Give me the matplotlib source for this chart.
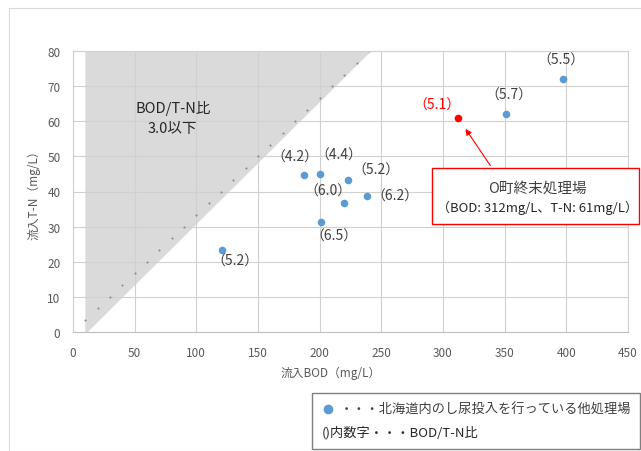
import matplotlib
matplotlib.use("Agg")
import matplotlib.pyplot as plt
from matplotlib.patches import Rectangle, Polygon

plt.rcParams['font.family'] = ['Noto Sans CJK JP', 'DejaVu Sans']

# 他処理場 (BOD, T-N, BOD/T-N比)
bod = [397, 351, 200, 187, 223, 220, 238, 201, 121]
tn = [72, 62, 45, 44.7, 43.2, 36.7, 38.8, 31.2, 23.4]
ratio = ["5.5", "5.7", "4.4", "4.2", "5.2", "6.0", "6.2", "6.5", "5.2"]

# O町終末処理場
o_bod, o_tn, o_ratio = 312, 61, "5.1"

# BOD/T-N = 3.0 の線
line_bod = [10, 20, 30, 40, 50, 60, 70, 80, 90, 100, 110, 120,
            130, 140, 150, 160, 170, 180, 190, 200, 210, 220, 230, 240]
line_tn = [3.3, 6.7, 10, 13.3, 16.7, 20, 23.3, 26.7, 30, 33.3, 36.7, 40,
           43.3, 46.7, 50, 53.3, 56.7, 60, 63.3, 66.7, 70, 73.3, 76.7, 80]

# 3.0以下の領域
shade_bod = [10, 10, 242, 12]
shade_tn = [0, 80, 80, 0]

W, H = 641, 452


def px(x, y):
    return x / W, 1 - y / H


fig = plt.figure(figsize=(6.41, 4.52), dpi=100)
ax = fig.add_axes([73 / W, 1 - 333 / H, (628 - 73) / W, (333 - 52) / H])

# chart frame
fig.patches.append(Rectangle(px(9, 452), 1, (452 - 9) / H, transform=fig.transFigure,
                             fill=False, edgecolor='#d9d9d9', lw=0.8))

ax.add_patch(Polygon(list(zip(shade_bod, shade_tn)), closed=True,
                     facecolor='#dadada', edgecolor='none', zorder=0.5))
ax.plot(line_bod, line_tn, ls='none', marker='o', ms=1.5, mew=0, color='#8a8a8a', zorder=2)

ax.scatter(bod, tn, s=30, color='#5b9bd5', zorder=3, linewidths=0)
ax.scatter([o_bod], [o_tn], s=30, color='#ff0000', zorder=3, linewidths=0)

# 比のラベル (ポイントからのずれ: px)
offsets = [(-2, 19), (3, 20), (19, 19), (-9, 18), (28, 11), (-16, 12), (28, 0), (13, -13), (13, -11)]
for x, y, r, (dx, dy) in zip(bod, tn, ratio, offsets):
    ax.annotate("（" + r + "）", (x, y), xytext=(dx, dy), textcoords='offset pixels',
                ha='center', va='center', fontsize=10, color='#404040', zorder=4)
ax.annotate("（" + o_ratio + "）", (o_bod, o_tn), xytext=(-21, 13), textcoords='offset pixels',
            ha='center', va='center', fontsize=10, color='#ff0000', zorder=4)

ax.text(81, 64, "BOD/T-N比", ha='center', va='center', fontsize=10.5, color='#262626')
ax.text(81, 58, "3.0以下", ha='center', va='center', fontsize=10.5, color='#262626')

ax.set_xlim(0, 450)
ax.set_ylim(0, 80)
ax.set_xticks(range(0, 451, 50))
ax.set_yticks(range(0, 81, 10))
ax.grid(True, color='#d0d0d0', lw=0.8, zorder=1)
ax.set_axisbelow(True)
for s in ax.spines.values():
    s.set_color('#d0d0d0')
    s.set_linewidth(0.8)
ax.spines['bottom'].set_color('#bfbfbf')
ax.tick_params(length=0, labelsize=8.5, labelcolor='#595959')
ax.tick_params(axis='x', pad=10)
ax.tick_params(axis='y', pad=9)

fig.text(*px(331, 373), "流入BOD（mg/L）", ha='center', va='center', fontsize=8.5, color='#595959')
fig.text(*px(34, 192), "流入T-N（mg/L）", ha='center', va='center', rotation=90,
         fontsize=8.5, color='#595959')

# O町終末処理場 の吹き出し
fig.patches.append(Rectangle(px(432, 225), (639 - 432) / W, (225 - 169) / H,
                             transform=fig.transFigure, facecolor='white',
                             edgecolor='#ff0000', lw=1.0, zorder=5))
fig.text(*px(537, 189), "O町終末処理場", ha='center', va='center', fontsize=10.5,
         color='#404040', zorder=6)
fig.text(*px(537, 208), "（BOD: 312mg/L、T-N: 61mg/L）", ha='center', va='center',
         fontsize=9.4, color='#262626', zorder=6)
ax.annotate("", xy=(o_bod + 5, o_tn - 2.5), xytext=px(492, 169), textcoords='figure fraction',
            arrowprops=dict(arrowstyle='-|>', color='#ff0000', lw=0.8, mutation_scale=9),
            zorder=4)

# 凡例ボックス
fig.patches.append(Rectangle(px(312, 450), (640 - 312) / W, (450 - 394) / H,
                             transform=fig.transFigure, facecolor='white',
                             edgecolor='#7f7f7f', lw=1.0))
fig.add_artist(plt.Line2D([328 / W], [1 - 410 / H], marker='o', ms=6, color='#5b9bd5',
                          ls='none', transform=fig.transFigure))
fig.text(*px(340, 410), "・・・北海道内のし尿投入を行っている他処理場", ha='left', va='center',
         fontsize=9.5, color='#404040')
fig.text(*px(322, 433), "()内数字・・・BOD/T-N比", ha='left', va='center',
         fontsize=9.5, color='#262626')

fig.savefig("out.png", dpi=100)
